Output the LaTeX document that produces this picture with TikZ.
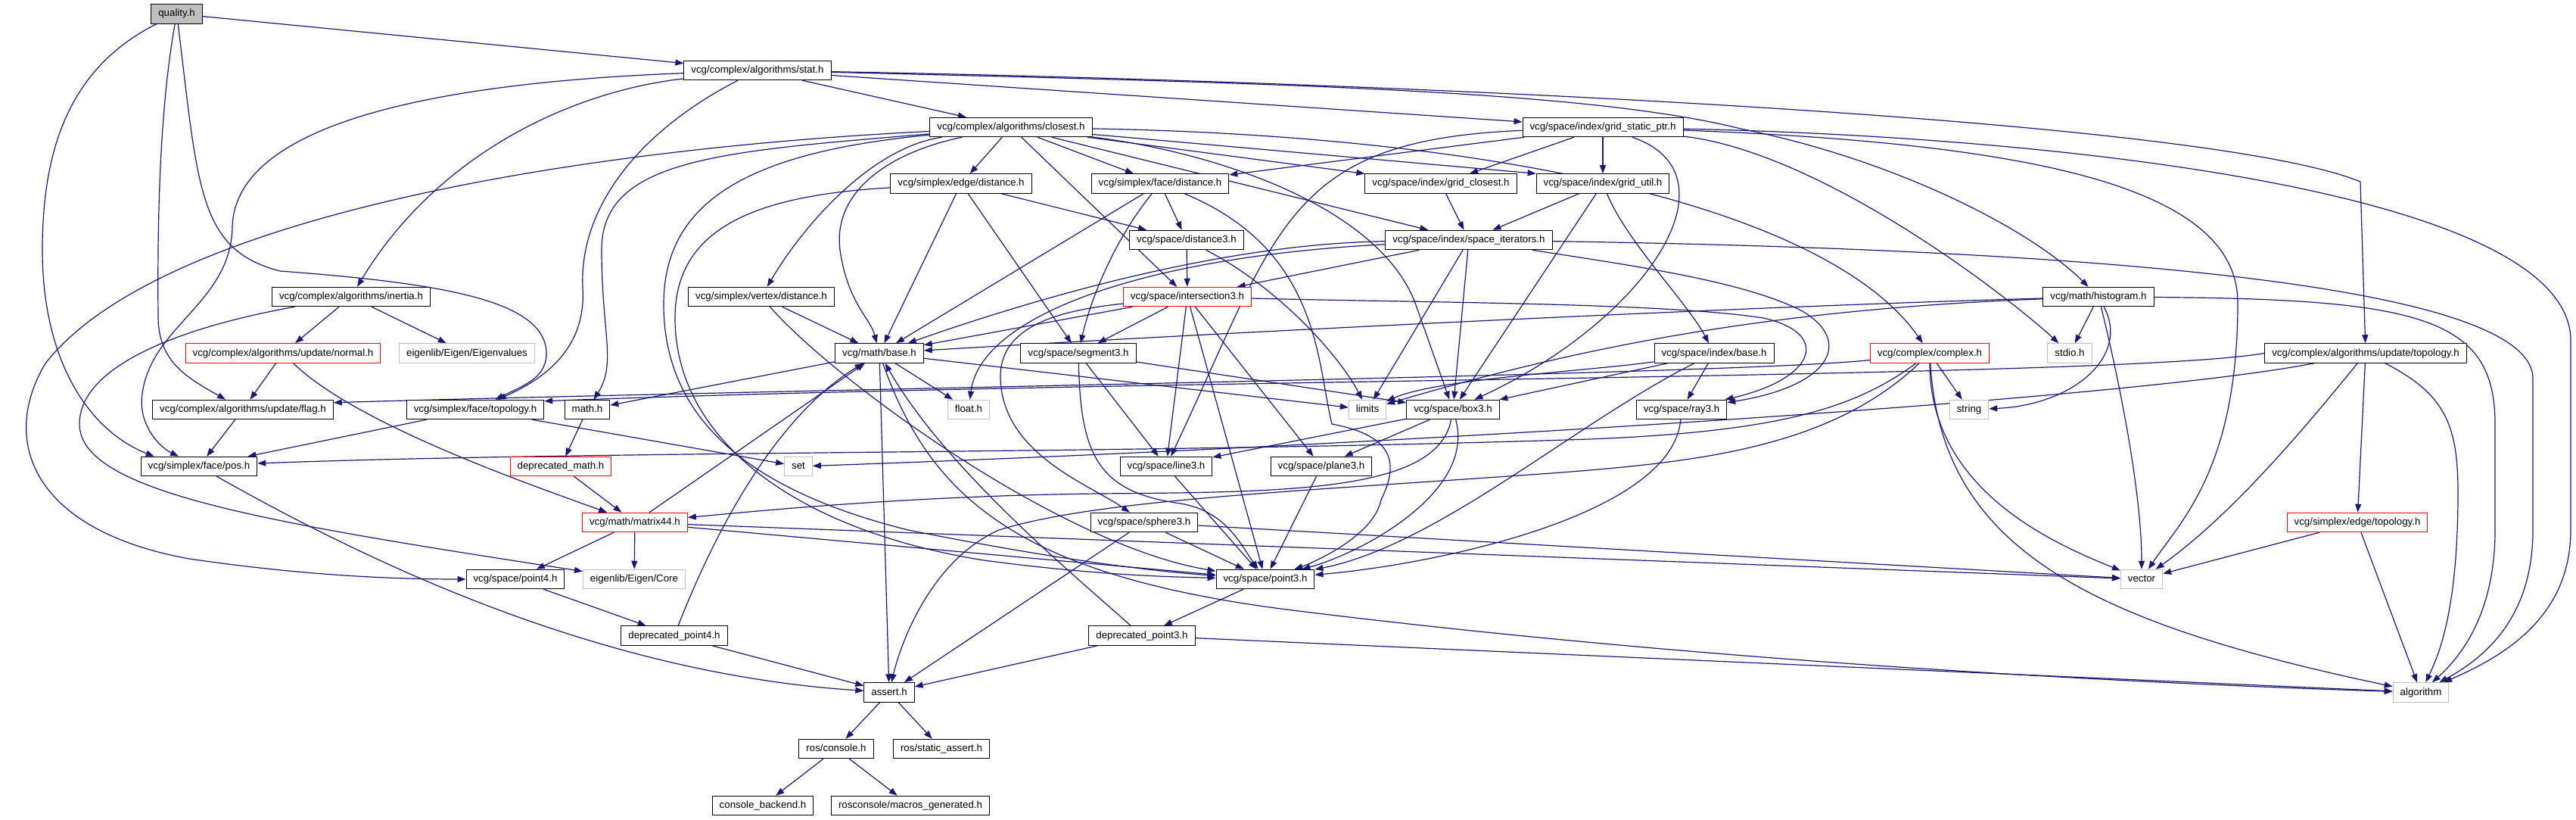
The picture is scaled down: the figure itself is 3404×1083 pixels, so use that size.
\documentclass[tikz,border=0pt]{standalone}
\usepackage{fontspec}
\setsansfont{Liberation Sans}
\usetikzlibrary{arrows.meta}
\definecolor{incblue}{HTML}{191970}
\definecolor{boxgray}{HTML}{BFBFBF}
\pgfdeclarelayer{background}
\pgfsetlayers{background,main}
\begin{document}
\begin{tikzpicture}[
        x=1pt, y=1pt,
        font=\sffamily\fontsize{13.3}{16}\selectfont
    ]
    \tikzset{
        hnode/.style = {rectangle, draw=black, line width=1pt, fill=white, inner xsep=9.5pt, inner ysep=0pt,
                        minimum height=25.5pt, text height=9.6pt, text depth=2.6pt},
        hnodeq/.style = {hnode, fill=boxgray},
        hnoder/.style = {hnode, draw=red},
        hnodeg/.style = {hnode, draw=boxgray},
        edgeinc/.style = {draw=incblue, line width=1.2pt, -{Triangle[length=11pt,width=8pt]}},
    }
    \useasboundingbox (0,0) rectangle (3404,-1083);
    %
    \node[hnodeq] at (233.6,-18.3) (q) {quality.h};
    \node[hnode] at (1001,-93) (stat) {vcg/complex/algorithms/stat.h};
    \node[hnode] at (1336,-168) (closest) {vcg/complex/algorithms/closest.h};
    \node[hnode] at (2118,-168) (gsp) {vcg/space/index/grid\_static\_ptr.h};
    \node[hnode] at (1270,-242.5) (edist) {vcg/simplex/edge/distance.h};
    \node[hnode] at (1533,-242.5) (fdist) {vcg/simplex/face/distance.h};
    \node[hnode] at (1904,-242.5) (gclos) {vcg/space/index/grid\_closest.h};
    \node[hnode] at (2118,-242.5) (gutil) {vcg/space/index/grid\_util.h};
    \node[hnode] at (1568,-317) (dist3) {vcg/space/distance3.h};
    \node[hnode] at (1941,-317) (spit) {vcg/space/index/space\_iterators.h};
    \node[hnode] at (464,-392) (inertia) {vcg/complex/algorithms/inertia.h};
    \node[hnode] at (1006,-392) (vdist) {vcg/simplex/vertex/distance.h};
    \node[hnoder] at (1569,-392) (inter) {vcg/space/intersection3.h};
    \node[hnode] at (2773,-392) (hist) {vcg/math/histogram.h};
    \node[hnoder] at (374,-466.5) (normal) {vcg/complex/algorithms/update/normal.h};
    \node[hnodeg] at (617,-466.5) (eigval) {eigenlib/Eigen/Eigenvalues};
    \node[hnode] at (1162,-466.5) (base) {vcg/math/base.h};
    \node[hnode] at (1425,-466.5) (seg) {vcg/space/segment3.h};
    \node[hnode] at (2265,-466.5) (ibase) {vcg/space/index/base.h};
    \node[hnoder] at (2550,-466.5) (complex) {vcg/complex/complex.h};
    \node[hnodeg] at (2735,-466.5) (stdio) {stdio.h};
    \node[hnode] at (3126,-466.5) (utopo) {vcg/complex/algorithms/update/topology.h};
    \node[hnode] at (321,-541) (flag) {vcg/complex/algorithms/update/flag.h};
    \node[hnode] at (628,-541) (ftopo) {vcg/simplex/face/topology.h};
    \node[hnode] at (776,-541) (math) {math.h};
    \node[hnodeg] at (1280,-541) (float) {float.h};
    \node[hnodeg] at (1807,-541) (limits) {limits};
    \node[hnode] at (1920,-541) (box3) {vcg/space/box3.h};
    \node[hnode] at (2222,-541) (ray3) {vcg/space/ray3.h};
    \node[hnodeg] at (2602,-541) (string) {string};
    \node[hnode] at (263,-616) (pos) {vcg/simplex/face/pos.h};
    \node[hnoder] at (741,-616) (dmath) {deprecated\_math.h};
    \node[hnodeg] at (1055,-616) (set) {set};
    \node[hnode] at (1541,-616) (line3) {vcg/space/line3.h};
    \node[hnode] at (1746,-616) (plane3) {vcg/space/plane3.h};
    \node[hnoder] at (839,-690) (m44) {vcg/math/matrix44.h};
    \node[hnode] at (1512,-690) (sphere3) {vcg/space/sphere3.h};
    \node[hnoder] at (3115,-690) (etopo) {vcg/simplex/edge/topology.h};
    \node[hnode] at (681,-765) (point4) {vcg/space/point4.h};
    \node[hnodeg] at (838,-765) (ecore) {eigenlib/Eigen/Core};
    \node[hnode] at (1672,-765) (point3) {vcg/space/point3.h};
    \node[hnodeg] at (2830,-765) (vector) {vector};
    \node[hnode] at (891,-839.6) (dp4) {deprecated\_point4.h};
    \node[hnode] at (1509,-839.6) (dp3) {deprecated\_point3.h};
    \node[hnode] at (1175,-914.5) (assert) {assert.h};
    \node[hnodeg] at (3199,-914.5) (algo) {algorithm};
    \node[hnode] at (1105,-989) (rcons) {ros/console.h};
    \node[hnode] at (1244,-989) (rsa) {ros/static\_assert.h};
    \node[hnode] at (1008,-1064) (cback) {console\_backend.h};
    \node[hnode] at (1203,-1064) (rmac) {rosconsole/macros\_generated.h};
    %
    \begin{pgfonlayer}{background}
    \draw[edgeinc] (q) -- (stat);
    \draw[edgeinc] (q) .. controls (90,-90) and (56,-200) .. (56,-330) .. controls (56,-480) and (120,-570) .. ([xshift=18pt]pos.north west);
    \draw[edgeinc] (q) .. controls (210,-150) and (208,-300) .. (209,-420) .. controls (210,-480) and (250,-500) .. (flag);
    \draw[edgeinc] (q) .. controls (262,-250) and (262,-330) .. (370,-358) .. controls (600,-375) and (725,-400) .. (722,-470) .. controls (720,-500) and (690,-510) .. (ftopo);
    %
    \draw[edgeinc] (stat) .. controls (550,-110) and (310,-170) .. (307,-300) .. controls (305,-400) and (200,-430) .. (188,-520) .. controls (182,-560) and (210,-590) .. (pos);
    \draw[edgeinc] (stat) .. controls (760,-120) and (580,-200) .. (inertia);
    \draw[edgeinc] (stat) .. controls (850,-170) and (765,-270) .. (770,-380) .. controls (775,-460) and (720,-500) .. (ftopo);
    \draw[edgeinc] (stat) -- (closest);
    \draw[edgeinc] (stat) -- (gsp);
    \draw[edgeinc] (stat) .. controls (1700,-110) and (2100,-120) .. (2300,-170) .. controls (2500,-210) and (2680,-300) .. (hist);
    \draw[edgeinc] (stat) .. controls (1700,-105) and (2900,-150) .. (3119,-240) -- (utopo);
    %
    \draw[edgeinc] (closest) .. controls (950,-200) and (795,-210) .. (795,-330) .. controls (795,-440) and (815,-480) .. (math);
    \draw[edgeinc] (closest) .. controls (700,-200) and (200,-300) .. (60,-480) .. controls (0,-580) and (40,-700) .. (250,-738) .. controls (400,-760) and (520,-765) .. (point4);
    \draw[edgeinc] (closest) .. controls (1000,-200) and (878,-260) .. (877,-400) .. controls (876,-560) and (1000,-650) .. (1200,-700) .. controls (1400,-740) and (1530,-755) .. (point3);
    \draw[edgeinc] (closest) .. controls (1150,-195) and (1060,-300) .. (vdist);
    \draw[edgeinc] (closest) -- (edist);
    \draw[edgeinc] (closest) -- (fdist);
    \draw[edgeinc] (closest) -- (inter);
    \draw[edgeinc] (closest) .. controls (1180,-200) and (1100,-250) .. (1110,-330) .. controls (1120,-400) and (1150,-420) .. (base);
    \draw[edgeinc] (closest) .. controls (1600,-200) and (1820,-270) .. (1870,-400) -- (box3);
    \draw[edgeinc] (closest) -- (spit);
    \draw[edgeinc] (closest) -- (gclos);
    \draw[edgeinc] (closest) -- (gutil.north west);
    \draw[edgeinc] (closest) .. controls (2000,-180) and (2420,-280) .. (complex);
    %
    \draw[edgeinc] (gsp) -- (fdist);
    \draw[edgeinc] (gsp) -- (gclos);
    \draw[edgeinc] (gsp) -- (gutil);
    \draw[edgeinc] (gsp) .. controls (1700,-185) and (1690,-300) .. (line3);
    \draw[edgeinc] (gsp) .. controls (2300,-230) and (2180,-420) .. (box3);
    \draw[edgeinc] (gsp) .. controls (2400,-200) and (2640,-380) .. (stdio);
    \draw[edgeinc] (gsp) .. controls (2700,-190) and (2957,-250) .. (2957,-400) .. controls (2957,-620) and (2880,-690) .. (vector);
    \draw[edgeinc] (gsp) .. controls (2700,-180) and (3397,-250) .. (3397,-450) -- (3397,-700) .. controls (3397,-820) and (3300,-870) .. (algo);
    %
    \draw[edgeinc] (gclos) -- (spit);
    \draw[edgeinc] (gutil) -- (spit);
    \draw[edgeinc] (gutil) -- (box3);
    \draw[edgeinc] (gutil) .. controls (2150,-320) and (2230,-400) .. (ibase);
    %
    \draw[edgeinc] (edist) -- (base);
    \draw[edgeinc] (edist) -- (dist3);
    \draw[edgeinc] (edist) -- (seg);
    \draw[edgeinc] (edist) .. controls (1000,-258) and (892,-300) .. (892,-420) .. controls (892,-580) and (1050,-700) .. (1300,-740) .. controls (1450,-760) and (1550,-762) .. (point3);
    %
    \draw[edgeinc] (fdist) -- (dist3);
    \draw[edgeinc] (fdist) -- (base);
    \draw[edgeinc] (fdist) .. controls (1470,-320) and (1440,-400) .. (seg);
    \draw[edgeinc] (fdist) .. controls (1745,-330) and (1740,-480) .. (1760,-560) .. controls (1840,-575) and (1850,-610) .. (1825,-660) .. controls (1815,-710) and (1730,-745) .. (point3);
    %
    \draw[edgeinc] (dist3) -- (inter);
    \draw[edgeinc] (dist3) .. controls (1690,-380) and (1770,-470) .. (limits);
    %
    \draw[edgeinc] (spit) .. controls (1620,-322) and (1380,-390) .. (base);
    \draw[edgeinc] (spit) .. controls (1500,-340) and (1295,-420) .. (float);
    \draw[edgeinc] (spit) -- (inter);
    \draw[edgeinc] (spit) -- (limits);
    \draw[edgeinc] (spit) -- (box3);
    \draw[edgeinc] (spit) .. controls (2150,-350) and (2300,-370) .. (2380,-410) .. controls (2450,-450) and (2420,-510) .. (ray3);
    \draw[edgeinc] (spit) .. controls (2800,-330) and (3347,-380) .. (3347,-500) -- (3347,-700) .. controls (3347,-810) and (3290,-865) .. (algo);
    %
    \draw[edgeinc] (inter) -- (base);
    \draw[edgeinc] (inter) -- (seg);
    \draw[edgeinc] (inter) -- (line3);
    \draw[edgeinc] (inter) -- (point3);
    \draw[edgeinc] (inter) -- (plane3);
    \draw[edgeinc] (inter) .. controls (1400,-410) and (1320,-430) .. (1322,-500) .. controls (1325,-600) and (1440,-640) .. (sphere3);
    \draw[edgeinc] (inter) .. controls (1900,-400) and (2200,-400) .. (2330,-420) .. controls (2420,-440) and (2400,-500) .. (ray3);
    %
    \draw[edgeinc] (vdist) -- (base);
    \draw[edgeinc] (vdist) .. controls (1100,-500) and (1400,-720) .. (point3);
    %
    \draw[edgeinc] (hist) .. controls (2300,-405) and (1600,-440) .. (base);
    \draw[edgeinc] (hist) .. controls (2300,-410) and (2050,-470) .. (limits);
    \draw[edgeinc] (hist) -- (stdio);
    \draw[edgeinc] (hist) .. controls (2815,-470) and (2740,-535) .. (string);
    \draw[edgeinc] (hist) .. controls (2800,-500) and (2830,-650) .. (vector);
    \draw[edgeinc] (hist) .. controls (3200,-395) and (3297,-420) .. (3297,-560) -- (3297,-700) .. controls (3297,-800) and (3260,-860) .. (algo);
    %
    \draw[edgeinc] (inertia) -- (normal);
    \draw[edgeinc] (inertia) -- (eigval);
    \draw[edgeinc] (inertia) .. controls (250,-430) and (105,-480) .. (105,-560) .. controls (105,-650) and (350,-690) .. (ecore);
    \draw[edgeinc] (normal) -- (flag);
    \draw[edgeinc] (normal) .. controls (470,-560) and (700,-640) .. (m44);
    %
    \draw[edgeinc] (flag) -- (pos);
    \draw[edgeinc] (ftopo) -- (pos);
    \draw[edgeinc] (ftopo) -- (set);
    \draw[edgeinc] (math) -- (dmath);
    \draw[edgeinc] (dmath) -- (m44);
    \draw[edgeinc] (pos) .. controls (500,-750) and (800,-890) .. (assert);
    %
    \draw[edgeinc] (base) -- (float);
    \draw[edgeinc] (base) -- (limits);
    \draw[edgeinc] (base) -- (math);
    \draw[edgeinc] (base) -- (assert);
    \draw[edgeinc] (base) .. controls (1230,-660) and (1350,-760) .. (1700,-805) .. controls (2300,-880) and (2900,-905) .. (algo);
    %
    \draw[edgeinc] (seg) -- (line3);
    \draw[edgeinc] (seg) -- (box3);
    \draw[edgeinc] (seg) .. controls (1428,-600) and (1450,-650) .. (1560,-665) .. controls (1620,-675) and (1640,-720) .. (point3);
    %
    \draw[edgeinc] (box3) -- (line3);
    \draw[edgeinc] (box3) -- (plane3);
    \draw[edgeinc] (box3) .. controls (1950,-650) and (1800,-730) .. (point3);
    \draw[edgeinc] (box3) .. controls (1900,-650) and (1700,-650) .. (1450,-652) .. controls (1200,-655) and (1000,-675) .. (m44);
    %
    \draw[edgeinc] (line3) -- (point3);
    \draw[edgeinc] (plane3) -- (point3);
    \draw[edgeinc] (sphere3) -- (point3);
    \draw[edgeinc] (sphere3) -- (assert);
    \draw[edgeinc] (sphere3) -- (vector);
    %
    \draw[edgeinc] (m44) -- (point4);
    \draw[edgeinc] (m44) -- (ecore);
    \draw[edgeinc] (m44) -- (point3);
    \draw[edgeinc] (m44) -- (base);
    \draw[edgeinc] (m44) -- (vector);
    %
    \draw[edgeinc] (point4) -- (dp4);
    \draw[edgeinc] (dp4) .. controls (930,-740) and (1010,-560) .. (base);
    \draw[edgeinc] (dp4) -- (assert);
    \draw[edgeinc] (point3) -- (dp3);
    \draw[edgeinc] (dp3) .. controls (1420,-760) and (1250,-620) .. (base);
    \draw[edgeinc] (dp3) -- (assert);
    \draw[edgeinc] (dp3) -- (algo);
    %
    \draw[edgeinc] (assert) -- (rcons);
    \draw[edgeinc] (assert) -- (rsa);
    \draw[edgeinc] (rcons) -- (cback);
    \draw[edgeinc] (rcons) -- (rmac);
    %
    \draw[edgeinc] (ibase) -- (ray3);
    \draw[edgeinc] (ibase) -- (box3);
    \draw[edgeinc] (ibase) .. controls (2100,-490) and (1900,-500) .. (limits);
    \draw[edgeinc] (ibase) .. controls (2080,-560) and (1900,-720) .. (point3);
    \draw[edgeinc] (ray3) .. controls (2210,-680) and (1900,-745) .. (point3);
    %
    \draw[edgeinc] (complex) .. controls (2300,-495) and (1000,-515) .. ([yshift=-4pt]flag.north east);
    \draw[edgeinc] (complex) .. controls (2450,-540) and (2350,-570) .. (2100,-580) .. controls (1500,-600) and (800,-595) .. ([yshift=4pt]pos.east);
    \draw[edgeinc] (complex) .. controls (2420,-590) and (2250,-610) .. (2050,-625) .. controls (1700,-650) and (1450,-660) .. (1320,-700) .. controls (1230,-740) and (1190,-850) .. (assert);
    \draw[edgeinc] (complex) .. controls (2550,-650) and (2720,-720) .. (vector);
    \draw[edgeinc] (complex) .. controls (2565,-720) and (2750,-820) .. (algo);
    \draw[edgeinc] (complex) -- (string);
    %
    \draw[edgeinc] (utopo.west) .. controls (2800,-500) and (1500,-500) .. ([yshift=-2pt]ftopo.north east);
    \draw[edgeinc] (utopo) .. controls (2800,-530) and (1800,-590) .. (set);
    \draw[edgeinc] (utopo) .. controls (3050,-560) and (2950,-680) .. (vector);
    \draw[edgeinc] (utopo) -- (etopo);
    \draw[edgeinc] (utopo) .. controls (3230,-520) and (3248,-560) .. (3248,-650) .. controls (3248,-800) and (3225,-860) .. (algo);
    \draw[edgeinc] (etopo) -- (vector);
    \draw[edgeinc] (etopo) -- (algo);
    \end{pgfonlayer}
\end{tikzpicture}
\end{document}
